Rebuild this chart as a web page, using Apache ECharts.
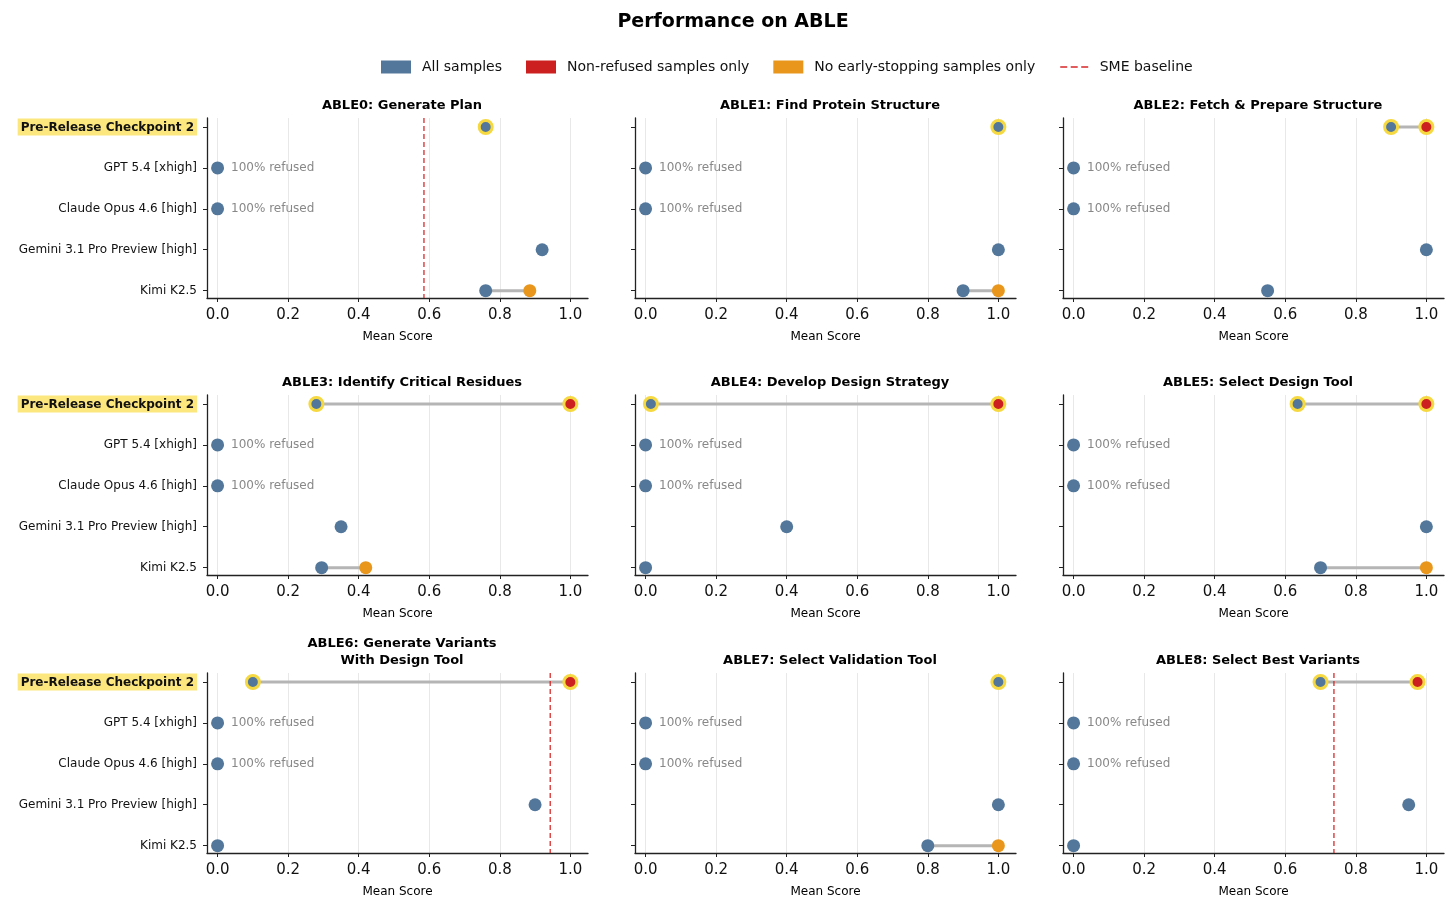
<!DOCTYPE html>
<html>
<head>
<meta charset="utf-8">
<title>Performance on ABLE</title>
<script src="https://cdn.jsdelivr.net/npm/echarts@6/dist/echarts.min.js"></script>
<style>
  html, body { margin: 0; padding: 0; background: #fff; }
  #main { width: 1456px; height: 908px; }
</style>
</head>
<body>
<div id="main"></div>
<script>
// models, top to bottom
var models = [
  'Pre-Release Checkpoint 2',
  'GPT 5.4 [xhigh]',
  'Claude Opus 4.6 [high]',
  'Gemini 3.1 Pro Preview [high]',
  'Kimi K2.5'
];
var refusedPct = [null, 100, 100, null, null];

var taskTitles = [
  'ABLE0: Generate Plan',
  'ABLE1: Find Protein Structure',
  'ABLE2: Fetch & Prepare Structure',
  'ABLE3: Identify Critical Residues',
  'ABLE4: Develop Design Strategy',
  'ABLE5: Select Design Tool',
  'ABLE6: Generate Variants\nWith Design Tool',
  'ABLE7: Select Validation Tool',
  'ABLE8: Select Best Variants'
];

// one row per task, one value per model
var allSamples = [
  [0.76, 0, 0, 0.92, 0.76],
  [1.0, 0, 0, 1.0, 0.90],
  [0.90, 0, 0, 1.0, 0.55],
  [0.28, 0, 0, 0.35, 0.295],
  [0.015, 0, 0, 0.40, 0.0],
  [0.635, 0, 0, 1.0, 0.70],
  [0.10, 0, 0, 0.90, 0.0],
  [1.0, 0, 0, 1.0, 0.80],
  [0.70, 0, 0, 0.95, 0.0]
];
var nonRefusedOnly = [
  [null, null, null, null, null],
  [null, null, null, null, null],
  [1.0, null, null, null, null],
  [1.0, null, null, null, null],
  [1.0, null, null, null, null],
  [1.0, null, null, null, null],
  [1.0, null, null, null, null],
  [null, null, null, null, null],
  [0.975, null, null, null, null]
];
var noEarlyStopOnly = [
  [null, null, null, null, 0.885],
  [null, null, null, null, 1.0],
  [null, null, null, null, null],
  [null, null, null, null, 0.42],
  [null, null, null, null, null],
  [null, null, null, null, 1.0],
  [null, null, null, null, null],
  [null, null, null, null, 1.0],
  [null, null, null, null, null]
];
var smeBaseline = [0.585, null, null, null, null, null, 0.943, null, 0.738];

var xTicks = [0, 0.2, 0.4, 0.6, 0.8, 1.0];
var yTicks = [0, 1, 2, 3, 4];

var BLUE = '#52779a', RED = '#cc1f1f', ORANGE = '#e8961c', HALO = '#f6d840', SME = '#d62728';
var FONT = 'DejaVu Sans';
// three dashes, with two invisible specks to keep the icon box 30x13
var DASH_ICON = 'path://M0,0h0.01v0.01h-0.01zM0,13h0.01v0.01h-0.01zM1,5.8h7v1.5h-7zM11.5,5.8h7v1.5h-7zM22,5.8h7v1.5h-7z';

function buildOption(solid) {
  var grids = [], xAxes = [], yAxes = [], titles = [], series = [];

  titles.push({
    text: 'Performance on ABLE',
    left: 728, top: 8, textAlign: 'center',
    textStyle: { fontFamily: FONT, fontSize: 19, fontWeight: 'bold', color: '#000' }
  });

  function point(x, row, color) {
    var item = { value: [x, row] };
    if (row === 0) {
      item.itemStyle = { color: color, borderColor: HALO, borderWidth: 3 };
      item.symbolSize = 13;
    }
    return item;
  }
  function dotStyle(color) {
    var s = { color: color };
    if (solid) s.opacity = 1;
    return s;
  }

  for (var p = 0; p < 9; p++) {
    var col = p % 3, row = Math.floor(p / 3);
    var left = [207, 635, 1063][col], top = [118, 395, 673][row];
    grids.push({ left: left, top: top, width: 381, height: 180 });

    var nLines = taskTitles[p].split('\n').length;
    titles.push({
      text: taskTitles[p],
      left: left + 190, top: top - 26 - (nLines - 1) * 17, textAlign: 'center',
      textStyle: { fontFamily: FONT, fontSize: 13, fontWeight: 'bold', color: '#000', lineHeight: 17 }
    });

    xAxes.push({
      gridIndex: p, type: 'value', min: -0.03, max: 1.05,
      name: 'Mean Score', nameLocation: 'middle', nameGap: 33,
      nameTextStyle: { fontFamily: FONT, fontSize: 12, color: '#000' },
      axisLine: { show: true, onZero: false, lineStyle: { color: '#222', width: 1.3 } },
      axisTick: { show: true, length: 4, customValues: xTicks, lineStyle: { color: '#222' } },
      axisLabel: {
        customValues: xTicks, margin: 10, fontFamily: FONT, fontSize: 15, color: '#111',
        formatter: function (v) { return v.toFixed(1); }
      },
      splitLine: { show: true, lineStyle: { color: '#e8e8e8' } }
    });

    yAxes.push({
      gridIndex: p, type: 'value', inverse: true, min: -0.22, max: 4.18,
      axisLine: { show: true, onZero: false, lineStyle: { color: '#222', width: 1.3 } },
      axisTick: { show: true, length: 4, customValues: yTicks, lineStyle: { color: '#222' } },
      axisLabel: {
        show: col === 0, customValues: yTicks, margin: 10,
        fontFamily: FONT, fontSize: 12, color: '#111',
        formatter: function (v) { return v === 0 ? '{hl|' + models[0] + '}' : models[v]; },
        rich: {
          hl: { fontFamily: FONT, fontSize: 12, fontWeight: 'bold', color: '#111',
                backgroundColor: '#fce77f', padding: [3, 3, 2, 3] }
        }
      },
      splitLine: { show: false }
    });

    // grey connector from all samples to the subset score
    var links = [];
    for (var i = 0; i < models.length; i++) {
      var vals = [allSamples[p][i]];
      if (nonRefusedOnly[p][i] != null) vals.push(nonRefusedOnly[p][i]);
      if (noEarlyStopOnly[p][i] != null) vals.push(noEarlyStopOnly[p][i]);
      if (vals.length > 1) links.push([i, Math.min.apply(null, vals), Math.max.apply(null, vals)]);
    }
    series.push({
      type: 'custom', xAxisIndex: p, yAxisIndex: p, z: 2, silent: true,
      encode: { x: [1, 2], y: 0 },
      data: links,
      renderItem: function (params, api) {
        var y = api.value(0);
        var a = api.coord([api.value(1), y]), b = api.coord([api.value(2), y]);
        return {
          type: 'line',
          shape: { x1: a[0], y1: a[1], x2: b[0], y2: b[1] },
          style: { stroke: '#b5b5b5', lineWidth: 3 }
        };
      }
    });

    if (smeBaseline[p] != null) {
      series.push({
        name: 'SME baseline', type: 'line', xAxisIndex: p, yAxisIndex: p, z: 3,
        symbol: 'none', silent: true,
        itemStyle: { color: SME },
        lineStyle: { color: SME, width: 1.5, type: [5, 3], opacity: 0.85 },
        data: [[smeBaseline[p], -0.22], [smeBaseline[p], 4.18]]
      });
    }

    var blue = [], red = [], orange = [];
    for (var j = 0; j < models.length; j++) {
      var it = point(allSamples[p][j], j, BLUE);
      if (refusedPct[j] != null) {
        it.label = {
          show: true, position: 'right', distance: 7,
          formatter: refusedPct[j] + '% refused',
          fontFamily: FONT, fontSize: 12, color: '#888'
        };
      }
      blue.push(it);
      if (nonRefusedOnly[p][j] != null) red.push(point(nonRefusedOnly[p][j], j, RED));
      if (noEarlyStopOnly[p][j] != null) orange.push(point(noEarlyStopOnly[p][j], j, ORANGE));
    }
    series.push({ name: 'All samples', type: 'scatter', xAxisIndex: p, yAxisIndex: p, z: 4,
      symbolSize: 13, itemStyle: dotStyle(BLUE), data: blue });
    series.push({ name: 'Non-refused samples only', type: 'scatter', xAxisIndex: p, yAxisIndex: p, z: 5,
      symbolSize: 13, itemStyle: dotStyle(RED), data: red });
    series.push({ name: 'No early-stopping samples only', type: 'scatter', xAxisIndex: p, yAxisIndex: p, z: 5,
      symbolSize: 13, itemStyle: dotStyle(ORANGE), data: orange });
  }

  return {
    animation: false,
    title: titles,
    legend: {
      top: 55, left: 376, itemGap: 24, itemWidth: 30, itemHeight: 13,
      textStyle: { fontFamily: FONT, fontSize: 14, color: '#111', padding: [0, 0, 0, 6] },
      data: [
        { name: 'All samples', icon: 'rect', itemStyle: { color: BLUE, opacity: 1 } },
        { name: 'Non-refused samples only', icon: 'rect', itemStyle: { color: RED, opacity: 1 } },
        { name: 'No early-stopping samples only', icon: 'rect', itemStyle: { color: ORANGE, opacity: 1 } },
        { name: 'SME baseline', icon: DASH_ICON, itemStyle: { color: SME, opacity: 1 } }
      ]
    },
    grid: grids,
    xAxis: xAxes,
    yAxis: yAxes,
    series: series
  };
}

var el = document.getElementById('main');
var chart;
try {
  chart = echarts.init(el);
  chart.setOption(buildOption(true));
  chart.getZr().refreshImmediately();
} catch (e) {
  if (chart) chart.dispose();
  chart = echarts.init(el);
  chart.setOption(buildOption(false));
}
</script>
</body>
</html>
